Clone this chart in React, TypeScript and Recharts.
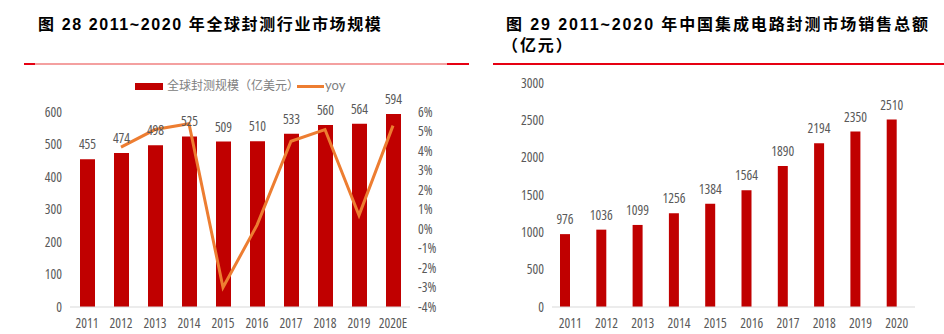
import React from 'react';
import { ComposedChart, BarChart, Bar, Line, XAxis, YAxis, LabelList } from 'recharts';

const globalYears = ['2011', '2012', '2013', '2014', '2015', '2016', '2017', '2018', '2019', '2020E'];
const globalScale = [455, 474, 498, 525, 509, 510, 533, 560, 564, 594];
const globalYoy = [null, 4.2, 5.1, 5.4, -3.0, 0.2, 4.5, 5.1, 0.7, 5.3];

const chinaYears = ['2011', '2012', '2013', '2014', '2015', '2016', '2017', '2018', '2019', '2020'];
const chinaSales = [976, 1036, 1099, 1256, 1384, 1564, 1890, 2194, 2350, 2510];

const leftTicks = [0, 100, 200, 300, 400, 500, 600];
const rightTicks = [-4, -3, -2, -1, 0, 1, 2, 3, 4, 5, 6];
const chinaTicks = [0, 500, 1000, 1500, 2000, 2500, 3000];

const leftTitle = '图 28 2011~2020 年全球封测行业市场规模';
const rightTitle1 = '图 29 2011~2020 年中国集成电路封测市场销售总额';
const rightTitle2 = '（亿元）';
const barLegend = '全球封测规模（亿美元）';
const lineLegend = 'yoy';

const globalData = globalYears.map((y, i) => ({ year: y, scale: globalScale[i], yoy: globalYoy[i] }));
const chinaData = chinaYears.map((y, i) => ({ year: y, sales: chinaSales[i] }));

const RED = '#C00000';
const ORANGE = '#ED7D31';
const TICK = '#595959';
const FONT = '"Open Sans", "Noto Sans CJK SC", sans-serif';
const LEG_FONT = 'Lato, "Noto Sans CJK SC", sans-serif';
const TITLE_FONT = '"Liberation Sans", Arial, "Noto Sans CJK SC", sans-serif';

const tickStyle = { fill: TICK, fontSize: 13.5, fontFamily: FONT, fontStretch: '75%' };
const labelStyle = { fontStretch: '75%' };

export default function App() {
  return (
    <div style={{ position: 'absolute', left: 0, top: 0, width: 944, height: 334, background: '#fff', overflow: 'hidden' }}>
      {/* titles */}
      <div style={{ position: 'absolute', left: 38, top: 14, fontFamily: TITLE_FONT, fontWeight: 'bold', fontSize: 16, letterSpacing: 1.6, color: '#000', whiteSpace: 'nowrap', lineHeight: '22px' }}>
        {leftTitle}
      </div>
      <div style={{ position: 'absolute', left: 506, top: 14, fontFamily: TITLE_FONT, fontWeight: 'bold', fontSize: 16, letterSpacing: 1.9, color: '#000', whiteSpace: 'nowrap', lineHeight: '21px' }}>
        <div>{rightTitle1}</div>
        <div style={{ marginLeft: -4 }}>{rightTitle2}</div>
      </div>
      {/* rule lines */}
      <div style={{ position: 'absolute', left: 24, top: 63, width: 11, height: 2, background: '#E60012' }} />
      <div style={{ position: 'absolute', left: 35, top: 63, width: 412, height: 2, background: '#F4A0A0' }} />
      <div style={{ position: 'absolute', left: 447, top: 63, width: 22, height: 2, background: '#E60012' }} />
      <div style={{ position: 'absolute', left: 493, top: 63, width: 451, height: 2, background: '#E60012' }} />
      {/* legend */}
      <div style={{ position: 'absolute', left: 135, top: 83, width: 28, height: 7, background: RED }} />
      <div style={{ position: 'absolute', left: 167, top: 77, fontFamily: LEG_FONT, fontSize: 12, color: '#808080', whiteSpace: 'nowrap', lineHeight: '18px' }}>{barLegend}</div>
      <div style={{ position: 'absolute', left: 297, top: 85, width: 27, height: 3, background: ORANGE }} />
      <div style={{ position: 'absolute', left: 325, top: 76, fontFamily: LEG_FONT, fontSize: 13, color: '#808080', whiteSpace: 'nowrap', lineHeight: '18px' }}>{lineLegend}</div>

      <div style={{ position: 'absolute', left: 0, top: 0 }}>
        <ComposedChart width={470} height={334} data={globalData} margin={{ top: 112, right: 0, bottom: 0, left: 0 }} barSize={15}>
          <XAxis dataKey="year" axisLine={{ stroke: '#D9D9D9' }} tickLine={false} tick={tickStyle} height={27} tickMargin={5} interval={0} />
          <YAxis yAxisId="l" domain={[0, 600]} ticks={leftTicks} interval={0} axisLine={false} tickLine={false} tick={tickStyle} width={70} />
          <YAxis yAxisId="r" orientation="right" domain={[-4, 6]} ticks={rightTicks} interval={0} axisLine={false} tickLine={false} tick={tickStyle} width={60} tickFormatter={(v) => `${v}%`} />
          <Bar yAxisId="l" dataKey="scale" fill={RED} isAnimationActive={false}>
            <LabelList dataKey="scale" position="top" offset={10} fill={TICK} fontSize={13.5} fontFamily={FONT} style={labelStyle} />
          </Bar>
          <Line yAxisId="r" dataKey="yoy" stroke={ORANGE} strokeWidth={3} dot={false} isAnimationActive={false} connectNulls={false} />
        </ComposedChart>
      </div>

      <div style={{ position: 'absolute', left: 470, top: 0 }}>
        <BarChart width={474} height={334} data={chinaData} margin={{ top: 83, right: 29, bottom: 0, left: 0 }} barSize={10} barGap={0}>
          <XAxis dataKey="year" axisLine={{ stroke: '#D9D9D9' }} tickLine={false} tick={tickStyle} height={27} tickMargin={5} interval={0} />
          <YAxis domain={[0, 3000]} ticks={chinaTicks} interval={0} axisLine={false} tickLine={false} tick={tickStyle} width={82} />
          <Bar dataKey="sales" fill={RED} isAnimationActive={false}>
            <LabelList dataKey="sales" position="top" offset={10} fill={TICK} fontSize={13.5} fontFamily={FONT} style={labelStyle} />
          </Bar>
          <Bar dataKey="sales" fill="transparent" isAnimationActive={false} />
        </BarChart>
      </div>
    </div>
  );
}
